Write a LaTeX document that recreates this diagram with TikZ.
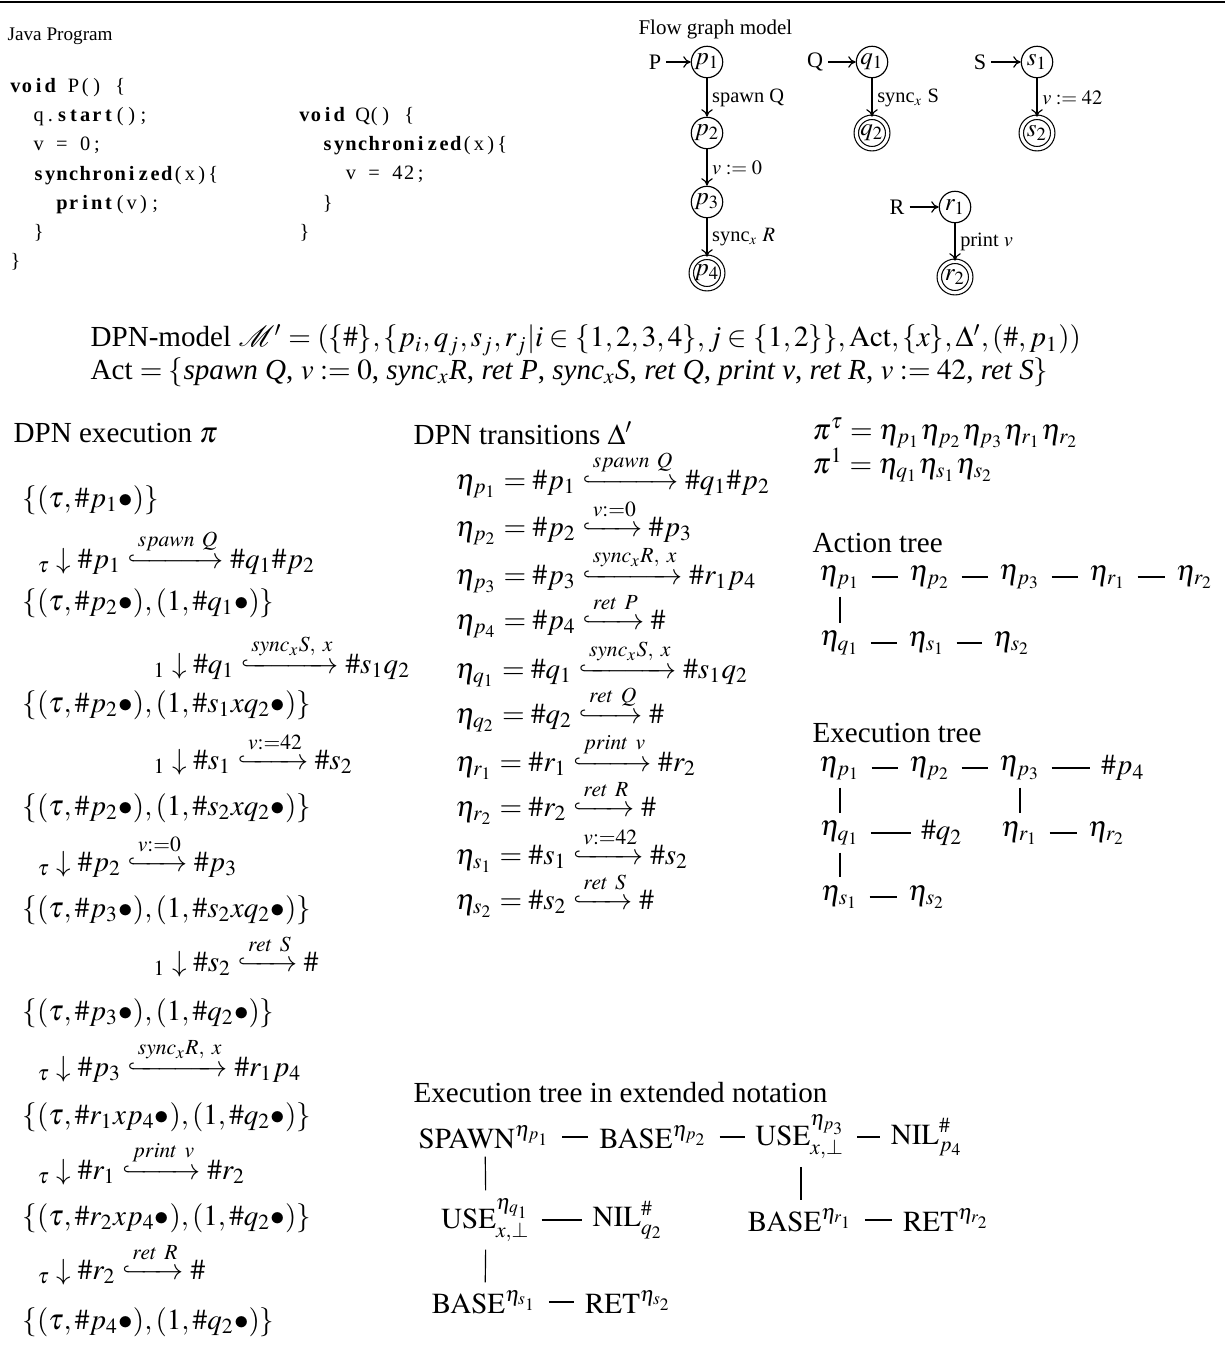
\documentclass[tikz,border=0pt]{standalone}
\usepackage{mathptmx}
\usepackage{mathtools}
\usepackage{fontspec}
\setmainfont{Liberation Serif}
\newfontfamily\codefont{Liberation Serif}
\usetikzlibrary{arrows.meta, positioning}

% fixed-width code columns
\makeatletter
\newcommand{\cols}[1]{\@tfor\cl@c:=#1\do{\hbox to 4pt{\hss\cl@c\hss}}}
\makeatother

\begin{document}
\begin{tikzpicture}[x=0.3436pt, y=-0.3436pt,
    every node/.style={inner sep=0pt},
    state/.style={circle, draw, minimum size=10.8pt, inner sep=0pt, font=\fontsize{8.6}{9}\selectfont},
    accept/.style={double, double distance=1.1pt},
    fg/.style={font=\fontsize{7}{8}\selectfont, inner sep=1.6pt},
    fl/.style={font=\fontsize{7.6}{8}\selectfont, inner sep=1.6pt},
    fa/.style={-{To[length=2.6pt,width=4pt]}},
    codebox/.style={anchor=north west, align=left, font=\codefont\fontsize{7}{10}\selectfont},
    hd/.style={anchor=west},
    ml/.style={anchor=west},
    sl/.style={anchor=base west},
    tlink/.style={shorten <=3.5pt, shorten >=3.5pt},
    vlink/.style={shorten <=2.5pt, shorten >=2.5pt}]
  \useasboundingbox (0,0) rectangle (1225,1353);

  % Top rule
  \draw[line width=1pt] (0,2) -- (1225,2);

  % Java program
  \node[hd, font=\fontsize{6.6}{8}\selectfont] (java) at (7,36) {Java Program};
  \node[codebox] (codeP) at (9,78) {\textbf{\cols{void}}\cols{~P()~\{}\\
    \cols{~~q.}\textbf{\cols{start}}\cols{();}\\
    \cols{~~v~=~0;}\\
    \cols{~~}\textbf{\cols{synchronized}}\cols{(x)\{}\\
    \cols{~~~~}\textbf{\cols{print}}\cols{(v);}\\
    \cols{~~\}}\\
    \cols{\}}};
  \node[codebox] (codeQ) at (298,107) {\textbf{\cols{void}}\cols{~Q()~\{}\\
    \cols{~~}\textbf{\cols{synchronized}}\cols{(x)\{}\\
    \cols{~~~~v~=~42;}\\
    \cols{~~\}}\\
    \cols{\}}};

  % Flow graph model
  \node[hd, font=\fontsize{7.2}{8}\selectfont] (fgm) at (638,29) {Flow graph model};
  \node[state] (p1) at (707,62) {$p_1$};
  \node[state] (p2) at (707,133) {$p_2$};
  \node[state] (p3) at (707,202) {$p_3$};
  \node[state, accept] (p4) at (707,273) {$p_4$};
  \node[fl] (P) at (655,62) {P};
  \draw[fa] (P) -- (p1);
  \draw[fa] (p1) -- node[fg, right] {spawn Q} (p2);
  \draw[fa] (p2) -- node[fg, right] {$v:=0$} (p3);
  \draw[fa] (p3) -- node[fg, right] {sync$_x$ $R$} (p4);

  \node[state] (q1) at (872,62) {$q_1$};
  \node[state, accept] (q2) at (872,133) {$q_2$};
  \node[fl] (Q) at (815,62) {Q};
  \draw[fa] (Q) -- (q1);
  \draw[fa] (q1) -- node[fg, right] {sync$_x$ S} (q2);

  \node[state] (s1) at (1037,62) {$s_1$};
  \node[state, accept] (s2) at (1037,133) {$s_2$};
  \node[fl] (S) at (980,62) {S};
  \draw[fa] (S) -- (s1);
  \draw[fa] (s1) -- node[fg, right] {$v:=42$} (s2);

  \node[state] (r1) at (955,207) {$r_1$};
  \node[state, accept] (r2) at (955,277) {$r_2$};
  \node[fl] (R) at (897,207) {R};
  \draw[fa] (R) -- (r1);
  \draw[fa] (r1) -- node[fg, right] {print $v$} (r2);

  % DPN model
  \node[ml] (model) at (90,340) {DPN-model $\mathcal{M}'=(\{\#\},\{p_i,q_j,s_j,r_j|i\in\{1,2,3,4\},j\in\{1,2\}\},\mathrm{Act},\{x\},\Delta',(\#,p_1))$};
  \node[ml] (act) at (90,372) {Act $=\{$\textit{spawn Q}, $v:=0$, \textit{sync$_x$R}, \textit{ret P}, \textit{sync$_x$S}, \textit{ret Q}, \textit{print v}, \textit{ret R}, $v:=42$, \textit{ret S}$\}$};

  % DPN execution
  \node[hd] (exec) at (13,433) {DPN execution $\pi$};
  \node[ml] (c0) at (22,500) {$\{(\tau,\#p_1\bullet)\}$};
  \node[sl] (t1) at (37,568) {${}_{\tau}\;{\downarrow}\;\#p_1\xhookrightarrow{spawn\ Q}\#q_1\#p_2$};
  \node[ml] (c1) at (22,603) {$\{(\tau,\#p_2\bullet),(1,\#q_1\bullet)\}$};
  \node[sl] (t2) at (153,673) {${}_{1}\;{\downarrow}\;\#q_1\xhookrightarrow{sync_xS,\ x}\#s_1q_2$};
  \node[ml] (c2) at (22,705) {$\{(\tau,\#p_2\bullet),(1,\#s_1xq_2\bullet)\}$};
  \node[sl] (t3) at (153,769) {${}_{1}\;{\downarrow}\;\#s_1\xhookrightarrow{v:=42}\#s_2$};
  \node[ml] (c3) at (22,808) {$\{(\tau,\#p_2\bullet),(1,\#s_2xq_2\bullet)\}$};
  \node[sl] (t4) at (37,871) {${}_{\tau}\;{\downarrow}\;\#p_2\xhookrightarrow{v:=0}\#p_3$};
  \node[ml] (c4) at (22,910) {$\{(\tau,\#p_3\bullet),(1,\#s_2xq_2\bullet)\}$};
  \node[sl] (t5) at (153,971) {${}_{1}\;{\downarrow}\;\#s_2\xhookrightarrow{ret\ S}\#$};
  \node[ml] (c5) at (22,1013) {$\{(\tau,\#p_3\bullet),(1,\#q_2\bullet)\}$};
  \node[sl] (t6) at (37,1076) {${}_{\tau}\;{\downarrow}\;\#p_3\xhookrightarrow{sync_xR,\ x}\#r_1p_4$};
  \node[ml] (c6) at (22,1117) {$\{(\tau,\#r_1xp_4\bullet),(1,\#q_2\bullet)\}$};
  \node[sl] (t7) at (37,1179) {${}_{\tau}\;{\downarrow}\;\#r_1\xhookrightarrow{print\ v}\#r_2$};
  \node[ml] (c7) at (22,1218) {$\{(\tau,\#r_2xp_4\bullet),(1,\#q_2\bullet)\}$};
  \node[sl] (t8) at (37,1279) {${}_{\tau}\;{\downarrow}\;\#r_2\xhookrightarrow{ret\ R}\#$};
  \node[ml] (c8) at (22,1322) {$\{(\tau,\#p_4\bullet),(1,\#q_2\bullet)\}$};

  % DPN transitions
  \node[hd] (trans) at (413,433) {DPN transitions $\Delta'$};
  \node[sl] (hp1) at (455,489) {$\eta_{p_1}=\#p_1\xhookrightarrow{spawn\ Q}\#q_1\#p_2$};
  \node[sl] (hp2) at (455,536) {$\eta_{p_2}=\#p_2\xhookrightarrow{v:=0}\#p_3$};
  \node[sl] (hp3) at (455,584) {$\eta_{p_3}=\#p_3\xhookrightarrow{sync_xR,\ x}\#r_1p_4$};
  \node[sl] (hp4) at (455,629) {$\eta_{p_4}=\#p_4\xhookrightarrow{ret\ P}\#$};
  \node[sl] (hq1) at (455,678) {$\eta_{q_1}=\#q_1\xhookrightarrow{sync_xS,\ x}\#s_1q_2$};
  \node[sl] (hq2) at (455,723) {$\eta_{q_2}=\#q_2\xhookrightarrow{ret\ Q}\#$};
  \node[sl] (hr1) at (455,771) {$\eta_{r_1}=\#r_1\xhookrightarrow{print\ v}\#r_2$};
  \node[sl] (hr2) at (455,816) {$\eta_{r_2}=\#r_2\xhookrightarrow{ret\ R}\#$};
  \node[sl] (hs1) at (455,864) {$\eta_{s_1}=\#s_1\xhookrightarrow{v:=42}\#s_2$};
  \node[sl] (hs2) at (455,909) {$\eta_{s_2}=\#s_2\xhookrightarrow{ret\ S}\#$};

  % Projections
  \node[ml] (pitau) at (812,433) {$\pi^{\tau}=\eta_{p_1}\eta_{p_2}\eta_{p_3}\eta_{r_1}\eta_{r_2}$};
  \node[ml] (pione) at (812,465) {$\pi^{1}=\eta_{q_1}\eta_{s_1}\eta_{s_2}$};

  % Action tree
  \node[hd] (acttree) at (812,543) {Action tree};
  \node (ap1) at (840,577) {$\eta_{p_1}$};
  \node (ap2) at (930,577) {$\eta_{p_2}$};
  \node (ap3) at (1020,577) {$\eta_{p_3}$};
  \node (ar1) at (1108,577) {$\eta_{r_1}$};
  \node (ar2) at (1195,577) {$\eta_{r_2}$};
  \node (aq1) at (840,643) {$\eta_{q_1}$};
  \node (as1) at (927,643) {$\eta_{s_1}$};
  \node (as2) at (1012,643) {$\eta_{s_2}$};
  \draw[tlink] (ap1) -- (ap2);
  \draw[tlink] (ap2) -- (ap3);
  \draw[tlink] (ap3) -- (ar1);
  \draw[tlink] (ar1) -- (ar2);
  \draw[vlink] (ap1) -- (aq1);
  \draw[tlink] (aq1) -- (as1);
  \draw[tlink] (as1) -- (as2);

  % Execution tree
  \node[hd] (extree) at (812,733) {Execution tree};
  \node (xp1) at (840,768) {$\eta_{p_1}$};
  \node (xp2) at (930,768) {$\eta_{p_2}$};
  \node (xp3) at (1020,768) {$\eta_{p_3}$};
  \node (xp4) at (1123,768) {$\#p_4$};
  \node (xq1) at (840,833) {$\eta_{q_1}$};
  \node (xq2) at (942,833) {$\#q_2$};
  \node (xr1) at (1020,833) {$\eta_{r_1}$};
  \node (xr2) at (1107,833) {$\eta_{r_2}$};
  \node (xs1) at (840,897) {$\eta_{s_1}$};
  \node (xs2) at (927,897) {$\eta_{s_2}$};
  \draw[tlink] (xp1) -- (xp2);
  \draw[tlink] (xp2) -- (xp3);
  \draw[tlink] (xp3) -- (xp4);
  \draw[vlink] (xp1) -- (xq1);
  \draw[tlink] (xq1) -- (xq2);
  \draw[vlink] (xp3) -- (xr1);
  \draw[tlink] (xr1) -- (xr2);
  \draw[vlink] (xq1) -- (xs1);
  \draw[tlink] (xs1) -- (xs2);

  % Execution tree in extended notation
  \node[hd] (extnot) at (413,1093) {Execution tree in extended notation};
  \node (spawn) at (485,1137) {$\mathrm{SPAWN}^{\eta_{p_1}}$};
  \node (base2) at (654,1137) {$\mathrm{BASE}^{\eta_{p_2}}$};
  \node (use3) at (801,1137) {$\mathrm{USE}^{\eta_{p_3}}_{x,\bot}$};
  \node (nil4) at (927,1137) {$\mathrm{NIL}^{\#}_{p_4}$};
  \node (useq1) at (486,1220) {$\mathrm{USE}^{\eta_{q_1}}_{x,\bot}$};
  \node (nilq2) at (628,1220) {$\mathrm{NIL}^{\#}_{q_2}$};
  \node (baser1) at (801,1220) {$\mathrm{BASE}^{\eta_{r_1}}$};
  \node (retr2) at (947,1220) {$\mathrm{RET}^{\eta_{r_2}}$};
  \node (bases1) at (485,1302) {$\mathrm{BASE}^{\eta_{s_1}}$};
  \node (rets2) at (629,1302) {$\mathrm{RET}^{\eta_{s_2}}$};
  \draw[tlink] (spawn) -- (base2);
  \draw[tlink] (base2) -- (use3);
  \draw[tlink] (use3) -- (nil4);
  \draw[vlink] (spawn) -- (useq1);
  \draw[tlink] (useq1) -- (nilq2);
  \draw[vlink] (use3) -- (baser1);
  \draw[tlink] (baser1) -- (retr2);
  \draw[vlink] (useq1) -- (bases1);
  \draw[tlink] (bases1) -- (rets2);
\end{tikzpicture}
\end{document}
